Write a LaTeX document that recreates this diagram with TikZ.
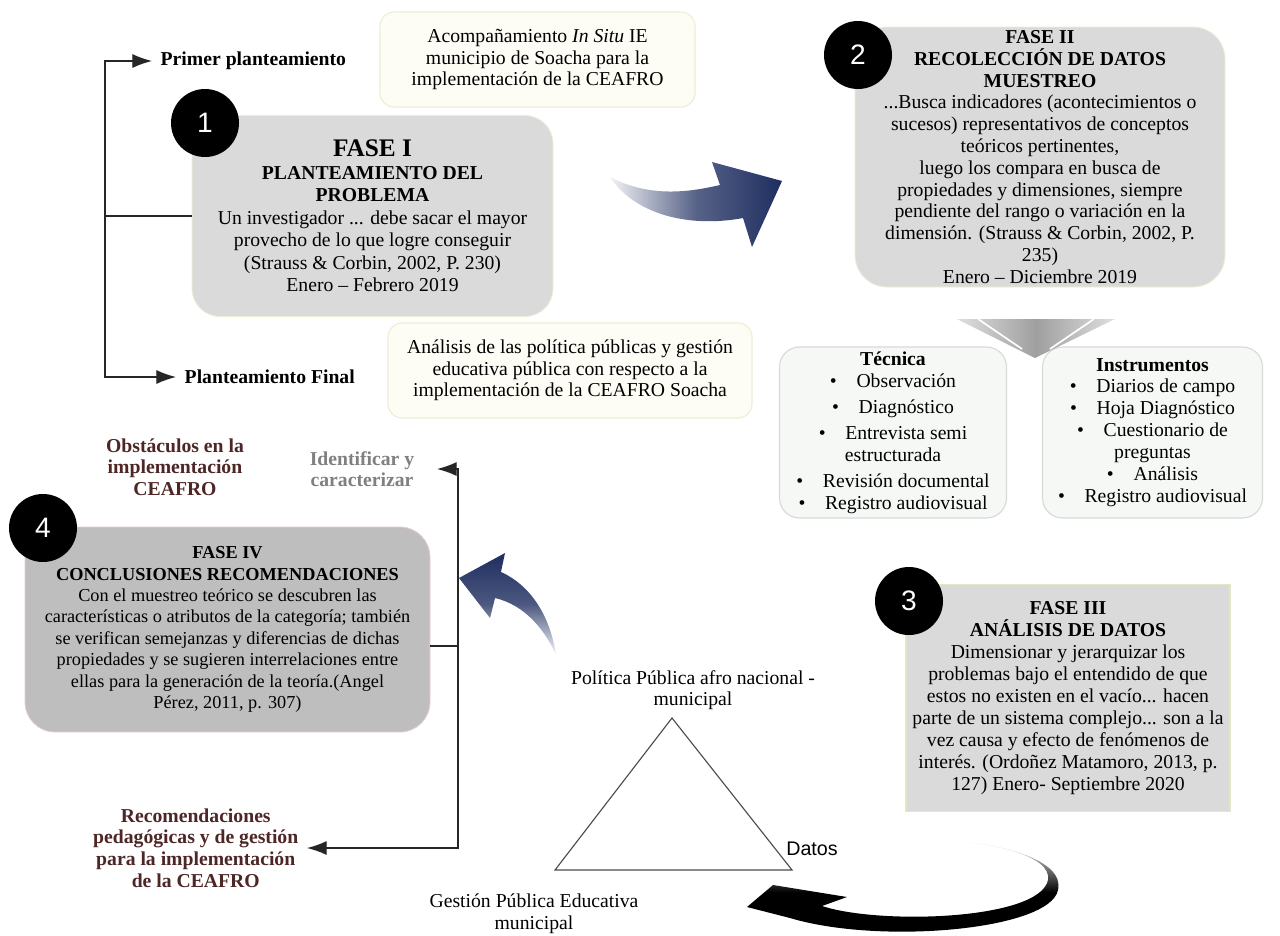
\documentclass[tikz,border=0pt]{standalone}
\usepackage{fontspec}
\setmainfont{Liberation Serif}
\newfontfamily\sansfam{Liberation Sans}
\usetikzlibrary{arrows.meta}

\definecolor{arrownavy}{RGB}{31,46,96}
\definecolor{labelbrown}{RGB}{78,38,38}
\definecolor{creamfill}{RGB}{253,253,246}
\definecolor{creamline}{RGB}{238,238,214}
\definecolor{phasegray}{RGB}{218,218,218}
\definecolor{darkphase}{RGB}{190,190,190}
\definecolor{pinkline}{RGB}{232,205,210}
\definecolor{greenline}{RGB}{226,232,196}
\definecolor{listfill}{RGB}{246,248,246}
\definecolor{listline}{RGB}{214,219,214}

\tikzset{
  phasebox/.style={fill=phasegray, draw=creamline, line width=.6pt, rounded corners=28*\pix,
    align=center, inner sep=0pt, font=\fontsize{14}{16}\selectfont},
  notebox/.style={fill=creamfill, draw=creamline, line width=.8pt, rounded corners=14*\pix,
    align=center, inner sep=0pt, font=\fontsize{14}{15.4}\selectfont},
  listbox/.style={fill=listfill, draw=listline, line width=.8pt, rounded corners=20*\pix,
    align=center, inner sep=0pt, font=\fontsize{14}{15.6}\selectfont},
  numdot/.style={circle, fill=black, minimum size=68*\pix, inner sep=0pt,
    text=white, font=\sansfam\fontsize{20}{20}\selectfont},
  sidelabel/.style={align=center, inner ysep=0pt, inner xsep=6pt,
    font=\bfseries\fontsize{14}{15.4}\selectfont},
  brk/.style={line width=.9pt, black!85},
  brkarrow/.style={brk, -{Latex[length=14pt,width=10pt]}},
  triline/.style={line width=.8pt, black!70},
}

\begin{document}
\begin{tikzpicture}[x=0.025cm, y=-0.025cm]
\def\pix{0.025cm}
\useasboundingbox (0,0) rectangle (1280,935);
\fill[white] (0,0) rectangle (1280,935);

% notas de la fase I
\node[notebox, minimum width=315*\pix, minimum height=95*\pix] (insitu) at (537.5,59.5)
  {Acompañamiento \textit{In Situ} IE\\ municipio de Soacha para la\\ implementación de la CEAFRO};
\node[notebox, minimum width=364*\pix, minimum height=95*\pix] (politicas) at (570,370.5)
  {Análisis de las política públicas y gestión\\ educativa pública con respecto a la\\ implementación de la CEAFRO Soacha};

% fases
\node[phasebox, minimum width=361*\pix, minimum height=201*\pix] (fase1) at (372.5,216)
  {{\fontsize{18}{18}\selectfont\bfseries FASE I}\\
   \textbf{PLANTEAMIENTO DEL}\\ \textbf{PROBLEMA}\\
   Un investigador ... debe sacar el mayor\\
   provecho de lo que logre conseguir\\
   (Strauss \& Corbin, 2002, P. 230)\\
   Enero – Febrero 2019};
\node[phasebox, font=\fontsize{14}{15.5}\selectfont, rounded corners=32*\pix,
  minimum width=370*\pix, minimum height=260*\pix] (fase2) at (1040,157)
  {\textbf{FASE II}\\ \textbf{RECOLECCIÓN DE DATOS}\\ \textbf{MUESTREO}\\
   ...Busca indicadores (acontecimientos o\\
   sucesos) representativos de conceptos\\
   teóricos pertinentes,\\
   luego los compara en busca de\\
   propiedades y dimensiones, siempre\\
   pendiente del rango o variación en la\\
   dimensión. (Strauss \& Corbin, 2002, P.\\
   235)\\
   Enero – Diciembre 2019};
\node[phasebox, sharp corners, draw=greenline, line width=1.2pt, font=\fontsize{14}{15.6}\selectfont,
  minimum width=324*\pix, minimum height=227*\pix] (fase3) at (1068,698)
  {\textbf{FASE III}\\ \textbf{ANÁLISIS DE DATOS}\\
   Dimensionar y jerarquizar los\\
   problemas bajo el entendido de que\\
   estos no existen en el vacío... hacen\\
   parte de un sistema complejo... son a la\\
   vez causa y efecto de fenómenos de\\
   interés. (Ordoñez Matamoro, 2013, p.\\
   127) Enero- Septiembre 2020};
\node[phasebox, fill=darkphase, draw=pinkline, rounded corners=30*\pix, font=\fontsize{13}{15.2}\selectfont,
  minimum width=405*\pix, minimum height=205*\pix] (fase4) at (227.5,629.5)
  {\textbf{FASE IV}\\ \textbf{CONCLUSIONES RECOMENDACIONES}\\
   Con el muestreo teórico se descubren las\\
   características o atributos de la categoría; también\\
   se verifican semejanzas y diferencias de dichas\\
   propiedades y se sugieren interrelaciones entre\\
   ellas para la generación de la teoría.(Angel\\
   Pérez, 2011, p. 307)};

% tecnicas e instrumentos
\node[listbox, minimum width=227*\pix, minimum height=171*\pix] (tecnica) at (893,432.5)
  {\textbf{Técnica}\\
   \textbullet\hspace{1em}Observación\\[3pt]
   \textbullet\hspace{1em}Diagnóstico\\[3pt]
   \textbullet\hspace{1em}Entrevista semi\\ estructurada\\[3pt]
   \textbullet\hspace{1em}Revisión documental\\
   \textbullet\hspace{1em}Registro audiovisual};
\node[listbox, minimum width=220*\pix, minimum height=171*\pix] (instrum) at (1152.5,432.5)
  {\textbf{Instrumentos}\\
   \textbullet\hspace{1em}Diarios de campo\\
   \textbullet\hspace{1em}Hoja Diagnóstico\\
   \textbullet\hspace{1em}Cuestionario de\\ preguntas\\
   \textbullet\hspace{1em}Análisis\\
   \textbullet\hspace{1em}Registro audiovisual};
\shade[left color=gray!25, right color=gray!25, middle color=gray!75]
  (957,319) -- (1115,319) -- (1035,358) -- cycle;
\draw[white, line width=1.2pt] (978,319) -- (1022,349);
\draw[white, line width=1.2pt] (1094,319) -- (1050,349);

% numeros
\node[numdot] (n1) at (205,123) {1};
\node[numdot] (n2) at (858,55) {2};
\node[numdot] (n3) at (909,601) {3};
\node[numdot] (n4) at (43,528) {4};

% llave izquierda
\node[sidelabel, anchor=west] (primer) at (152,61) {Primer planteamiento};
\node[sidelabel, anchor=west] (final) at (176,377) {Planteamiento Final};
\coordinate (brkleft) at (105,216);
\draw[brkarrow] (brkleft) |- (primer.west);
\draw[brkarrow] (brkleft) |- (final.west);
\draw[brk] (brkleft) -- (fase1.west);

% llave derecha
\node[sidelabel, text=labelbrown] (obstac) at (175,467) {Obstáculos en la\\ implementación\\ CEAFRO};
\node[sidelabel, text=black!50, anchor=east, inner xsep=16pt] (ident) at (437,469) {Identificar y\\ caracterizar};
\node[sidelabel, text=labelbrown, anchor=east] (recom) at (307,848)
  {Recomendaciones\\ pedagógicas y de gestión\\ para la implementación\\ de la CEAFRO};
\coordinate (brkright) at (458,646);
\draw[brkarrow] (brkright) |- (ident.east);
\draw[brkarrow] (brkright) |- (recom.east);
\draw[brk] (brkright) -- (brkright -| fase4.east);

% triangulo
\coordinate (tritop) at (672,718);
\coordinate (trileft) at (555,870);
\coordinate (triright) at (792,870);
\draw[triline] (tritop) -- (trileft) -- (triright) -- cycle;
\node[font=\fontsize{14}{15.4}\selectfont, align=center] (politica) at (693,690)
  {Política Pública afro nacional -\\ municipal};
\node[font=\fontsize{14}{15.4}\selectfont, align=center] (gestion) at (534,914)
  {Gestión Pública Educativa\\ municipal};
\node[font=\sansfam\fontsize{14}{14}\selectfont, anchor=west, inner sep=0pt] (datos) at (786,849) {Datos};

% flechas curvas
\shade[left color=arrownavy!6, right color=arrownavy, middle color=arrownavy!75]
  (610,177) .. controls (650,198) and (690,192) .. (720,185) -- (712,162) -- (782,181)
  -- (752,247) -- (743,218) .. controls (690,228) and (635,215) .. (610,177) -- cycle;
\shade[top color=arrownavy, bottom color=arrownavy!5, middle color=arrownavy!80]
  (459,578) -- (505,553) -- (501,572) .. controls (530,585) and (550,615) .. (556,655)
  .. controls (545,630) and (525,605) .. (495,598) -- (490,618) -- cycle;
\shade[top color=white, bottom color=black, middle color=black]
  (747,907) -- (773,885) -- (847,897) -- (822,906)
  .. controls (880,925) and (1040,920) .. (1048,880)
  .. controls (1052,855) and (990,842) .. (940,840)
  .. controls (1000,842) and (1065,860) .. (1058,890)
  .. controls (1050,930) and (880,945) .. (790,918) -- cycle;
\end{tikzpicture}
\end{document}
